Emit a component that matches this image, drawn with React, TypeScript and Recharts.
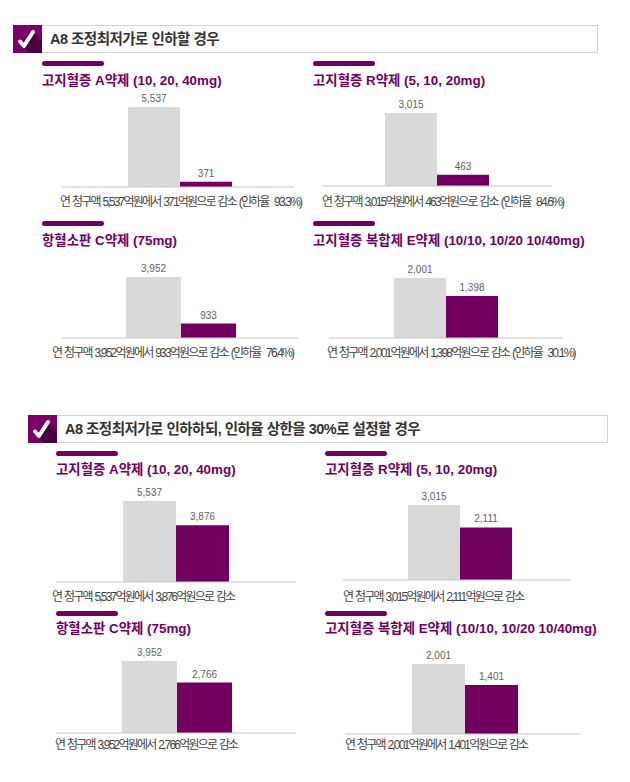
import { BarChart, Bar, XAxis, YAxis, LabelList } from "recharts"

const PURPLE = "#72005e"
const GREY = "#d9d9d9"
const FONT = '"Liberation Sans", "Noto Sans CJK KR", sans-serif'

const sectionTitles = ["A8 조정최저가로 인하할 경우", "A8 조정최저가로 인하하되, 인하율 상한을 30%로 설정할 경우"]

const drugNames = [
  "고지혈증 A약제 (10, 20, 40mg)",
  "고지혈증 R약제 (5, 10, 20mg)",
  "항혈소판 C약제 (75mg)",
  "고지혈증 복합제 E약제 (10/10, 10/20 10/40mg)",
  "고지혈증 A약제 (10, 20, 40mg)",
  "고지혈증 R약제 (5, 10, 20mg)",
  "항혈소판 C약제 (75mg)",
  "고지혈증 복합제 E약제 (10/10, 10/20 10/40mg)",
]
const beforeValues = [5537, 3015, 3952, 2001, 5537, 3015, 3952, 2001]
const afterValues = [371, 463, 933, 1398, 3876, 2111, 2766, 1401]
const captions = [
  "연 청구액 5,537억원에서 371억원으로 감소 (인하율  93.3%)",
  "연 청구액 3,015억원에서 463억원으로 감소 (인하율  84.6%)",
  "연 청구액 3,952억원에서 933억원으로 감소 (인하율  76.4%)",
  "연 청구액 2,001억원에서 1,398억원으로 감소 (인하율  30.1%)",
  "연 청구액 5,537억원에서 3,876억원으로 감소",
  "연 청구액 3,015억원에서 2,111억원으로 감소",
  "연 청구액 3,952억원에서 2,766억원으로 감소",
  "연 청구액 2,001억원에서 1,401억원으로 감소",
]

// panel placement on the page: x/y of the accent bar, axis span, baseline, plot height
const panelLayout = [
  { barX: 42, barY: 61, titleY: 71, x0: 62, x1: 294, base: 187, plot: 80, offset: 2, barSize: 52, capX: 60, capY: 202 },
  { barX: 313, barY: 61, titleY: 71, x0: 322, x1: 552, base: 186, plot: 73, offset: 0, barSize: 52, capX: 322, capY: 202 },
  { barX: 42, barY: 221, titleY: 231, x0: 62, x1: 298, base: 338, plot: 61, offset: 1, barSize: 55, capX: 52, capY: 353 },
  { barX: 313, barY: 221, titleY: 231, x0: 329, x1: 563, base: 338, plot: 60, offset: 0, barSize: 52, capX: 327, capY: 353 },
  { barX: 56, barY: 451, titleY: 460, x0: 56, x1: 296, base: 582, plot: 81, offset: 0, barSize: 53, capX: 52, capY: 597 },
  { barX: 325, barY: 451, titleY: 460, x0: 343, x1: 571, base: 580, plot: 75, offset: 3, barSize: 52, capX: 343, capY: 597 },
  { barX: 56, barY: 611, titleY: 619, x0: 56, x1: 296, base: 733, plot: 72, offset: 1, barSize: 55, capX: 55, capY: 745 },
  { barX: 325, barY: 611, titleY: 619, x0: 345, x1: 580, base: 734, plot: 70, offset: 2, barSize: 53, capX: 345, capY: 745 },
]

const headerLayout = [
  { x: 13, y: 25, right: 598 },
  { x: 28, y: 415, right: 608 },
]

const LABEL_ROOM = 20
const fmt = (v: unknown) => Number(v).toLocaleString("en-US")

function SectionHeader({ index }: { index: number }) {
  const h = headerLayout[index]
  return (
    <>
      <div
        style={{
          position: "absolute",
          left: h.x + 28,
          top: h.y,
          width: h.right - h.x - 28,
          height: 28,
          border: "1px solid #d4d4d4",
          boxSizing: "border-box",
          background: "#fff",
          fontSize: 14.5,
          fontWeight: 700,
          lineHeight: "26px",
          letterSpacing: -0.52,
          paddingLeft: 8,
          color: "#333",
        }}
      >
        {sectionTitles[index]}
      </div>
      <svg style={{ position: "absolute", left: h.x, top: h.y }} width={29} height={28}>
        <rect width={29} height={28} fill="#7a0068" />
        <path d="M10 22 L16 28 L29 28 L29 16 L20 7 Z" fill="#4a0040" />
        <path d="M7 16.5 L11 21 L20 7" fill="none" stroke="#fff" strokeWidth={4} strokeLinecap="round" strokeLinejoin="round" />
      </svg>
    </>
  )
}

function DrugPanel({ index }: { index: number }) {
  const p = panelLayout[index]
  const data = [{ name: drugNames[index], before: beforeValues[index], after: afterValues[index] }]
  const width = p.x1 - p.x0
  const height = LABEL_ROOM + p.plot + 2
  return (
    <>
      <div
        style={{
          position: "absolute",
          left: p.barX,
          top: p.barY,
          width: 62,
          height: 5,
          borderRadius: 3,
          background: PURPLE,
        }}
      />
      <div
        style={{
          position: "absolute",
          left: p.barX,
          top: p.titleY,
          fontSize: 13.4,
          fontWeight: 700,
          lineHeight: "20px",
          color: PURPLE,
          whiteSpace: "nowrap",
        }}
      >
        {drugNames[index]}
      </div>
      <div style={{ position: "absolute", left: p.x0, top: p.base - p.plot - LABEL_ROOM }}>
        <BarChart
          width={width}
          height={height}
          data={data}
          barGap={0}
          barSize={p.barSize}
          margin={{ top: LABEL_ROOM, right: 0, bottom: 0, left: 0 }}
        >
          <XAxis
            dataKey="name"
            height={2}
            tick={false}
            tickLine={false}
            axisLine={{ stroke: "#c8c8c8" }}
            padding={{ left: Math.max(0, p.offset * 2), right: Math.max(0, -p.offset * 2) }}
          />
          <YAxis hide domain={[0, beforeValues[index]]} />
          <Bar dataKey="before" fill={GREY} isAnimationActive={false}>
            <LabelList dataKey="before" position="top" formatter={fmt} fontSize={10} fill="#5f5f5f" />
          </Bar>
          <Bar dataKey="after" fill={PURPLE} isAnimationActive={false}>
            <LabelList dataKey="after" position="top" formatter={fmt} fontSize={10} fill="#5f5f5f" />
          </Bar>
        </BarChart>
      </div>
      <div
        style={{
          position: "absolute",
          left: p.capX,
          top: p.capY - 9,
          fontSize: 12,
          lineHeight: "18px",
          letterSpacing: -1.8,
          wordSpacing: 1.2,
          color: "#444",
          whiteSpace: "pre",
        }}
      >
        {captions[index]}
      </div>
    </>
  )
}

export default function App() {
  return (
    <div
      style={{
        position: "absolute",
        left: 0,
        top: 0,
        width: 630,
        height: 782,
        background: "#fff",
        fontFamily: FONT,
      }}
    >
      {sectionTitles.map((_, i) => (
        <SectionHeader key={i} index={i} />
      ))}
      {drugNames.map((_, i) => (
        <DrugPanel key={i} index={i} />
      ))}
    </div>
  )
}
